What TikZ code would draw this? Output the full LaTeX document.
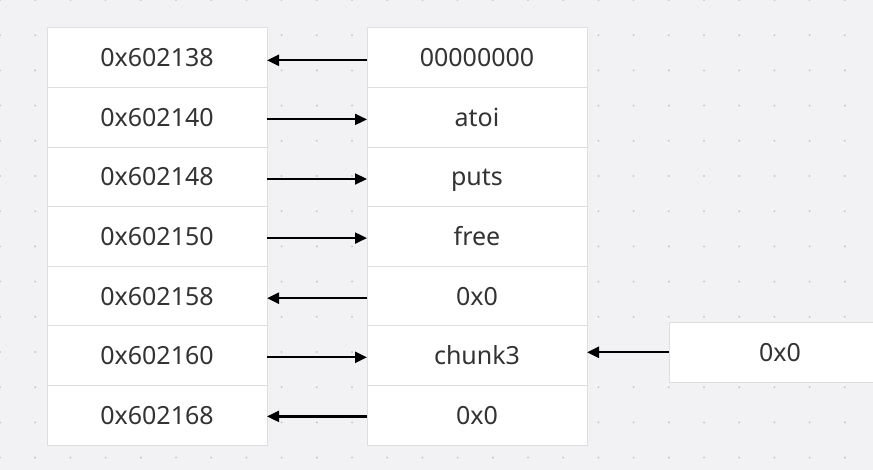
\documentclass[tikz,border=0pt]{standalone}
\usepackage{fontspec}
\setmainfont{Noto Sans}
\usepackage{xcolor}
\definecolor{bggray}{RGB}{242,242,244}
\definecolor{dotgray}{RGB}{200,200,204}
\definecolor{cellline}{RGB}{222,222,224}
\definecolor{textgray}{RGB}{51,51,51}
\usepackage{tikz}
\usetikzlibrary{arrows.meta,positioning}

\begin{document}
\begin{tikzpicture}[x=1pt, y=-1pt,
  node distance=0pt and 100pt,
  cell/.style={rectangle, draw=cellline, line width=1pt, fill=white,
               minimum width=220pt, minimum height=59.6pt,
               inner sep=0pt, outer sep=0pt, text=textgray,
               text height=18pt, text depth=0pt,
               font=\fontsize{25}{30}\selectfont},
  parr/.style={-{Triangle[length=12pt, width=11pt]}, line width=2.2pt, color=black}
]

%% canvas with dot grid
\fill[bggray] (0,0) rectangle (873,470);
\useasboundingbox (0,0) rectangle (873,470);
\foreach \i in {0,...,25}
  \foreach \j in {0,...,13}
    \fill[dotgray] (35.2*\i,35.2*\j) circle (1.1pt);

%% address column
\node[cell] (a1) at (157,57.8) {0x602138};
\node[cell, below=of a1] (a2) {0x602140};
\node[cell, below=of a2] (a3) {0x602148};
\node[cell, below=of a3] (a4) {0x602150};
\node[cell, below=of a4] (a5) {0x602158};
\node[cell, below=of a5] (a6) {0x602160};
\node[cell, below=of a6] (a7) {0x602168};

%% value column
\node[cell, right=of a1] (v1) {00000000};
\node[cell, right=of a2] (v2) {atoi};
\node[cell, right=of a3] (v3) {puts};
\node[cell, right=of a4] (v4) {free};
\node[cell, right=of a5] (v5) {0x0};
\node[cell, right=of a6] (v6) {chunk3};
\node[cell, right=of a7] (v7) {0x0};

%% extra chunk
\node[cell, right=82pt of v6, yshift=3.5pt, minimum width=222pt] (c3) {0x0};

%% arrows
\draw[parr] ([yshift=-2.5pt]v1.west) -- ([yshift=-2.5pt]a1.east);
\draw[parr] ([yshift=-2pt]a2.east) -- ([yshift=-2pt]v2.west);
\draw[parr] ([yshift=-2pt]a3.east) -- ([yshift=-2pt]v3.west);
\draw[parr] ([yshift=-1.5pt]a4.east) -- ([yshift=-1.5pt]v4.west);
\draw[parr] ([yshift=-2pt]v5.west) -- ([yshift=-2pt]a5.east);
\draw[parr] ([yshift=-1.5pt]a6.east) -- ([yshift=-1.5pt]v6.west);
\draw[parr] ([yshift=-1pt]v7.west) -- ([yshift=-1pt]a7.east);
\draw[parr] (c3.west) -- (c3.west -| v6.east);

\end{tikzpicture}
\end{document}
